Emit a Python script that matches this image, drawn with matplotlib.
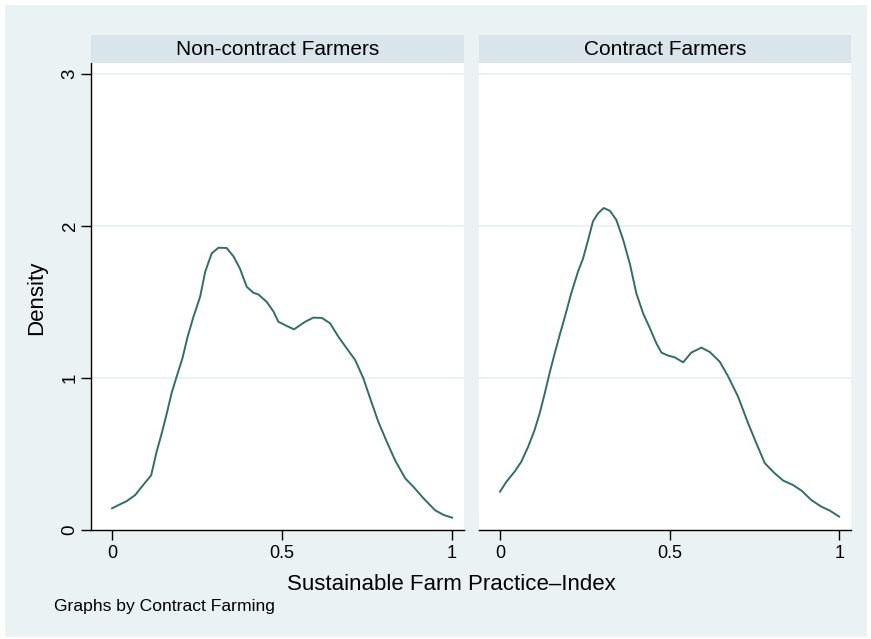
import matplotlib
matplotlib.use("Agg")
import matplotlib.pyplot as plt
from matplotlib.patches import Rectangle

plt.rcParams["font.family"] = ["Liberation Sans", "DejaVu Sans"]

# kernel density of the index, by contract status
panel_titles = ["Non-contract Farmers", "Contract Farmers"]

x_noncontract = [0.0, 0.043, 0.068, 0.082, 0.115, 0.131, 0.146, 0.161, 0.175, 0.190,
                 0.207, 0.222, 0.239, 0.259, 0.274, 0.293, 0.313, 0.337, 0.357, 0.376,
                 0.396, 0.416, 0.430, 0.455, 0.475, 0.489, 0.514, 0.535, 0.568, 0.592,
                 0.617, 0.641, 0.666, 0.690, 0.715, 0.739, 0.759, 0.783, 0.808, 0.832,
                 0.862, 0.886, 0.916, 0.950, 0.975, 1.0]
d_noncontract = [0.143, 0.19, 0.23, 0.27, 0.36, 0.515, 0.636, 0.768, 0.90, 1.01,
                 1.13, 1.27, 1.40, 1.535, 1.70, 1.82, 1.857, 1.855, 1.80, 1.72,
                 1.60, 1.56, 1.55, 1.50, 1.436, 1.37, 1.342, 1.32, 1.37, 1.397,
                 1.395, 1.36, 1.27, 1.195, 1.118, 0.998, 0.866, 0.712, 0.58, 0.46,
                 0.34, 0.285, 0.208, 0.13, 0.099, 0.081]

x_contract = [0.0, 0.019, 0.043, 0.063, 0.083, 0.102, 0.117, 0.132, 0.147, 0.161,
              0.176, 0.191, 0.21, 0.23, 0.245, 0.26, 0.274, 0.289, 0.306, 0.324,
              0.343, 0.363, 0.383, 0.402, 0.422, 0.442, 0.461, 0.476, 0.496, 0.515,
              0.540, 0.564, 0.594, 0.619, 0.648, 0.673, 0.702, 0.732, 0.756, 0.781,
              0.810, 0.835, 0.864, 0.889, 0.918, 0.948, 0.973, 1.0]
d_contract = [0.252, 0.318, 0.384, 0.45, 0.548, 0.658, 0.768, 0.90, 1.04, 1.16,
              1.283, 1.40, 1.557, 1.70, 1.787, 1.91, 2.03, 2.083, 2.118, 2.10,
              2.04, 1.91, 1.75, 1.557, 1.425, 1.327, 1.228, 1.167, 1.147, 1.136,
              1.103, 1.167, 1.20, 1.17, 1.107, 1.009, 0.877, 0.70, 0.57, 0.439,
              0.373, 0.325, 0.296, 0.259, 0.197, 0.153, 0.127, 0.088]

x_ticks = [0, 0.5, 1]
x_ticklabels = ["0", "0.5", "1"]
y_ticks = [0, 1, 2, 3]

W, H = 871, 639
bg = "#eaf2f3"
strip_col = "#d9e5eb"
line_col = "#2f6f67"

fig = plt.figure(figsize=(W / 100, H / 100), dpi=100, facecolor="white")
fig.patches.append(Rectangle((5 / W, 2 / H), 862 / W, 632 / H, transform=fig.transFigure,
                             facecolor=bg, edgecolor="none", zorder=-10))


def px_box(x0, y0, x1, y1):
    return [x0 / W, (H - y1) / H, (x1 - x0) / W, (y1 - y0) / H]


panels = [(91, 464), (479, 851)]
series = [(x_noncontract, d_noncontract), (x_contract, d_contract)]

for i, ((x0, x1), (xs, ds)) in enumerate(zip(panels, series)):
    ax = fig.add_axes(px_box(x0, 63, x1, 530))
    ax.set_facecolor("white")
    ax.plot(xs, ds, color=line_col, lw=1.4, zorder=3)
    ax.set_xlim(-0.062, 1.035)
    ax.set_ylim(0, 3.072)
    for y in y_ticks[1:]:
        ax.axhline(y, color=bg, lw=1.5, zorder=1)
    for s in ["top", "right"]:
        ax.spines[s].set_visible(False)
    ax.spines["bottom"].set_linewidth(1.0)
    ax.set_xticks(x_ticks)
    ax.set_xticklabels(x_ticklabels)
    ax.tick_params(axis="x", length=7, width=1.0, pad=4, labelsize=13)
    if i == 0:
        ax.spines["left"].set_linewidth(1.0)
        ax.set_yticks(y_ticks)
        ax.set_yticklabels([str(v) for v in y_ticks], rotation=90, va="center")
        ax.tick_params(axis="y", length=7, width=1.0, pad=2, labelsize=13.5)
    else:
        ax.spines["left"].set_visible(False)
        ax.set_yticks([])

    strip = fig.add_axes(px_box(x0, 35, x1, 63))
    strip.set_facecolor(strip_col)
    strip.set_xticks([])
    strip.set_yticks([])
    for s in strip.spines.values():
        s.set_visible(False)
    fig.text((x0 + x1) / 2 / W, (H - 55) / H, panel_titles[i], ha="center",
             va="baseline", fontsize=15)

fig.text(37 / W, (H - 298) / H, "Density", rotation=90, ha="center", va="center",
         fontsize=16)
fig.text(451.5 / W, (H - 590) / H, "Sustainable Farm Practice\u2013Index", ha="center",
         va="baseline", fontsize=16)
fig.text(54 / W, (H - 611) / H, "Graphs by Contract Farming", ha="left",
         va="baseline", fontsize=12.6)

fig.savefig("out.png", dpi=100, facecolor="white")
